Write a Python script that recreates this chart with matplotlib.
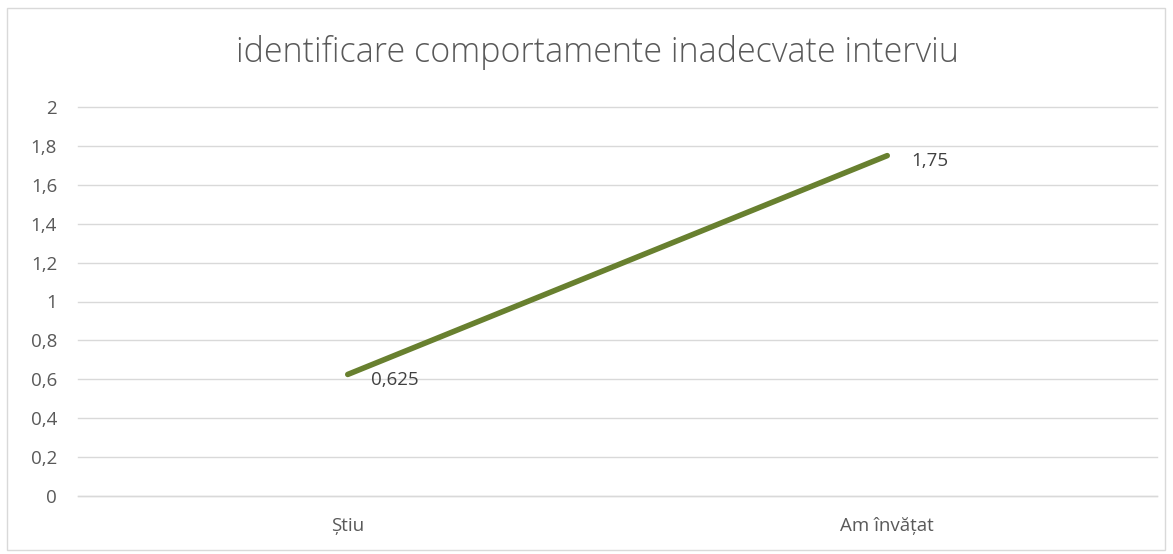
import matplotlib
matplotlib.use("Agg")
import matplotlib.pyplot as plt
from matplotlib.patches import Rectangle

categories = ["Știu", "Am învățat"]
values = [0.625, 1.75]
value_labels = ["0,625", "1,75"]
yticks = [0, 0.2, 0.4, 0.6, 0.8, 1.0, 1.2, 1.4, 1.6, 1.8, 2.0]
ytick_labels = ["0", "0,2", "0,4", "0,6", "0,8", "1", "1,2", "1,4", "1,6", "1,8", "2"]
title = "identificare comportamente inadecvate interviu"

plt.rcParams['font.family'] = ['Open Sans', 'DejaVu Sans']
W, H = 1173, 554
fig = plt.figure(figsize=(W/100, H/100), dpi=100)
fig.patches.append(Rectangle((7/W, 4/H), 1158/W, 542/H, transform=fig.transFigure,
                             fill=False, edgecolor='#D9D9D9', linewidth=1))
ax = fig.add_axes([78/W, 58/H, 1079/W, 389/H])
x = list(range(len(categories)))
ax.plot(x, values, color='#68802F', linewidth=4, solid_capstyle='round', zorder=3)
for xi, v, lab in zip(x, values, value_labels):
    ax.annotate(lab, (xi, v), xytext=(17, -4), textcoords='offset points',
                ha='left', va='center', fontsize=13.5, color='#404040')
ax.set_xlim(-0.5, len(categories) - 0.5)
ax.set_ylim(0, 2)
ax.set_yticks(yticks)
ax.set_yticklabels(ytick_labels)
ax.set_xticks(x)
ax.set_xticklabels(categories)
ax.grid(axis='y', color='#D9D9D9', linewidth=1)
for gl in ax.get_ygridlines():
    gl.set_clip_on(False)
ax.set_axisbelow(True)
for s in ax.spines.values():
    s.set_visible(False)
ax.spines['bottom'].set_visible(True)
ax.spines['bottom'].set_color('#D9D9D9')
ax.spines['bottom'].set_linewidth(1)
ax.tick_params(axis='both', length=0, labelsize=13.5, labelcolor='#595959')
ax.tick_params(axis='y', pad=15)
ax.tick_params(axis='x', pad=15)
fig.text(597/W, 1 - 53/H, title, ha='center', va='center', fontsize=24.5,
         color='#595959', fontweight='light')
fig.savefig("out.png", dpi=100)
